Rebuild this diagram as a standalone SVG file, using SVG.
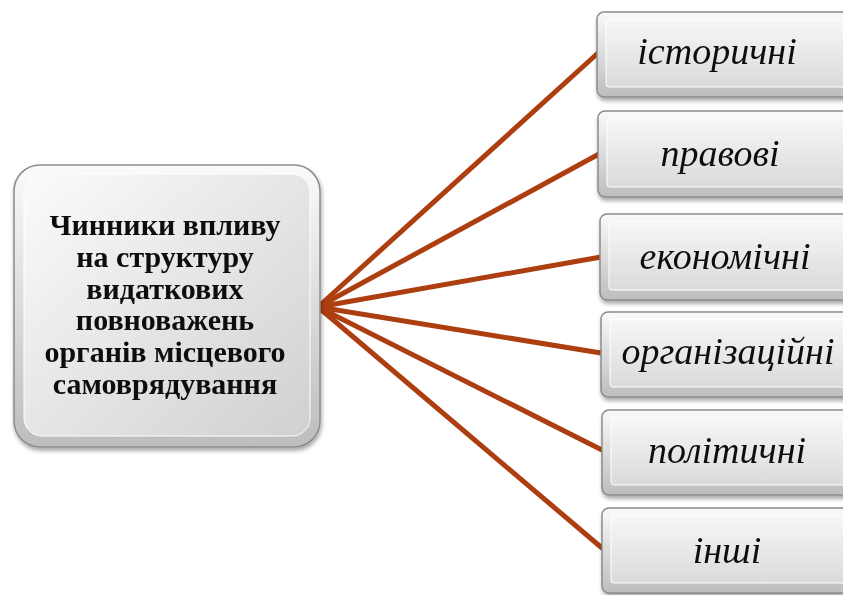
<svg xmlns="http://www.w3.org/2000/svg" width="843" height="595" viewBox="0 0 843 595">
<defs>
<linearGradient id="outer" x1="0" y1="0" x2="0" y2="1">
<stop offset="0" stop-color="#fafafa"/>
<stop offset="1" stop-color="#bdbdbd"/>
</linearGradient>
<linearGradient id="inner" x1="0" y1="0" x2="0" y2="1">
<stop offset="0" stop-color="#f7f7f7"/>
<stop offset="1" stop-color="#dadada"/>
</linearGradient>
<linearGradient id="innerC" x1="0" y1="0" x2="1" y2="1">
<stop offset="0" stop-color="#fbfbfb"/>
<stop offset="1" stop-color="#d0d0d0"/>
</linearGradient>
<filter id="sh" x="-10%" y="-10%" width="130%" height="130%">
<feGaussianBlur in="SourceAlpha" stdDeviation="2"/>
<feOffset dx="1" dy="3" result="b"/>
<feComponentTransfer><feFuncA type="linear" slope="0.35"/></feComponentTransfer>
<feMerge><feMergeNode/><feMergeNode in="SourceGraphic"/></feMerge>
</filter>
</defs>
<style>
.ob{fill:url(#outer);stroke:#8c8c8c;stroke-width:1.5}
.ib{fill:url(#inner);stroke:#ffffff;stroke-width:1}
.ic{fill:url(#innerC);stroke:#ffffff;stroke-width:1}
.lbl{font-family:"Liberation Serif","Times New Roman",serif;font-style:italic;font-size:38px;fill:#111;text-anchor:middle}
.ctr{font-family:"Liberation Serif","Times New Roman",serif;font-weight:bold;font-size:30px;fill:#111;text-anchor:middle}
.ln{stroke:#AD3E10;stroke-width:5;stroke-linecap:round;fill:none}
</style>
<rect width="843" height="595" fill="#ffffff"/>
<g id="connectors">
<line class="ln" x1="318" y1="307" x2="598" y2="53"/>
<line class="ln" x1="318" y1="307" x2="599" y2="154"/>
<line class="ln" x1="318" y1="307" x2="601" y2="257"/>
<line class="ln" x1="318" y1="307" x2="601" y2="353"/>
<line class="ln" x1="318" y1="307" x2="602" y2="450"/>
<line class="ln" x1="318" y1="307" x2="602" y2="548"/>
</g>
<g id="center" filter="url(#sh)">
<rect class="ob" x="14" y="165" width="306" height="282" rx="26"/>
<rect class="ic" x="24" y="174" width="286" height="262" rx="18"/>
<text class="ctr" x="165" y="235">Чинники впливу</text>
<text class="ctr" x="165" y="267">на структуру</text>
<text class="ctr" x="165" y="299">видаткових</text>
<text class="ctr" x="165" y="330">повноважень</text>
<text class="ctr" x="165" y="362">органів місцевого</text>
<text class="ctr" x="165" y="394">самоврядування</text>
</g>
<g id="n1" filter="url(#sh)">
<rect class="ob" x="597" y="12" width="262" height="85" rx="7"/>
<rect class="ib" x="606" y="19" width="244" height="68" rx="3"/>
<text class="lbl" x="717" y="64">історичні</text>
</g>
<g id="n2" filter="url(#sh)">
<rect class="ob" x="598" y="111" width="262" height="86" rx="7"/>
<rect class="ib" x="607" y="118" width="244" height="69" rx="3"/>
<text class="lbl" x="720" y="166">правові</text>
</g>
<g id="n3" filter="url(#sh)">
<rect class="ob" x="600" y="214" width="262" height="86" rx="7"/>
<rect class="ib" x="609" y="221" width="244" height="69" rx="3"/>
<text class="lbl" x="725" y="269">економічні</text>
</g>
<g id="n4" filter="url(#sh)">
<rect class="ob" x="601" y="312" width="262" height="85" rx="7"/>
<rect class="ib" x="610" y="319" width="244" height="68" rx="3"/>
<text class="lbl" x="728" y="364">організаційні</text>
</g>
<g id="n5" filter="url(#sh)">
<rect class="ob" x="602" y="410" width="262" height="85" rx="7"/>
<rect class="ib" x="611" y="417" width="244" height="68" rx="3"/>
<text class="lbl" x="727" y="463">політичні</text>
</g>
<g id="n6" filter="url(#sh)">
<rect class="ob" x="602" y="508" width="262" height="85" rx="7"/>
<rect class="ib" x="611" y="515" width="244" height="68" rx="3"/>
<text class="lbl" x="727" y="563">інші</text>
</g>
</svg>
